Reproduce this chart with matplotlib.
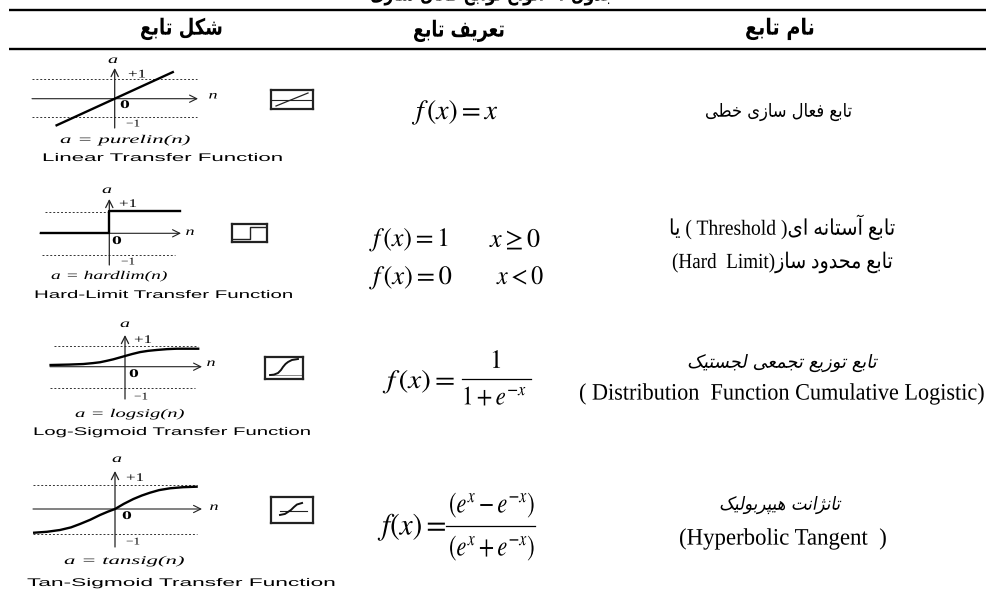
import re
import math
import matplotlib
matplotlib.use("Agg")
import matplotlib.pyplot as plt
from matplotlib.patheffects import AbstractPathEffect
from matplotlib.transforms import Affine2D

plt.rcParams['mathtext.fontset'] = 'stix'

# ---------- table text ----------
title = 'جدول ۱- انواع توابع فعال سازی'
headers = ['شکل تابع', 'تعریف تابع', 'نام تابع']
name_linear = 'تابع فعال سازی خطی'
name_hard = ['تابع آستانه ای( Threshold ) یا', 'تابع محدود ساز(Hard  Limit)']
name_log = ['تابع توزیع تجمعی لجستیک', '( Distribution  Function Cumulative Logistic)']
name_tan = ['تانژانت هیپربولیک', '(Hyperbolic Tangent  )']
captions = ['Linear Transfer Function', 'Hard-Limit Transfer Function',
            'Log-Sigmoid Transfer Function', 'Tan-Sigmoid Transfer Function']
formulas = ['a = purelin(n)', 'a = hardlim(n)', 'a = logsig(n)', 'a = tansig(n)']

# ---------- curves (n, a) ----------
linear_n = [-1.4, 1.4]
linear_a = [-1.4, 1.4]
hard_n = [-1.72, 0, 0, 1.76]
hard_a = [0, 0, 1, 1]
log_n = [-1.86, -1.4, -1.04, -0.8, -0.625, -0.45, -0.29, -0.14, 0, 0.18, 0.375, 0.58, 0.79, 1.05, 1.29, 1.83]
log_a = [0.08, 0.1, 0.127, 0.17, 0.21, 0.28, 0.35, 0.43, 0.505, 0.6, 0.69, 0.75, 0.79, 0.83, 0.85, 0.85]
tan_n = [-2.02, -1.7, -1.375, -1.1, -0.875, -0.62, -0.375, -0.18, 0, 0.22, 0.46, 0.67, 0.875, 1.1, 1.375, 1.7, 2.04]
tan_a = [-0.967, -0.93, -0.857, -0.75, -0.612, -0.44, -0.245, -0.11, 0, 0.21, 0.408, 0.55, 0.665, 0.77, 0.845, 0.89, 0.91]

# icons: same functions in their little boxes
icon_log_n = [-0.93, -0.67, -0.4, -0.2, -0.07, 0.1, 0.27, 0.53, 0.93]
icon_log_a = [-0.94, -0.89, -0.69, -0.31, 0.06, 0.44, 0.69, 0.94, 1.06]
icon_tan_n = [-0.8, -0.47, -0.27, -0.07, 0.13, 0.33, 0.67]
icon_tan_a = [-0.55, -0.44, -0.22, 0, 0.33, 0.61, 0.78]


# ---------- Persian shaping (matplotlib draws glyphs left to right, unjoined) ----------
FORMS = {}
for ch, base in zip('بتثجحخسشصضطظعغفقلمنه',
                    [0xFE8F, 0xFE95, 0xFE99, 0xFE9D, 0xFEA1, 0xFEA5, 0xFEB1, 0xFEB5, 0xFEB9,
                     0xFEBD, 0xFEC1, 0xFEC5, 0xFEC9, 0xFECD, 0xFED1, 0xFED5, 0xFEDD, 0xFEE1,
                     0xFEE5, 0xFEE9]):
    FORMS[ch] = tuple(chr(base + i) for i in range(4))
for ch, base in zip('پچکگی', [0xFB56, 0xFB7A, 0xFB8E, 0xFB92, 0xFBFC]):
    FORMS[ch] = tuple(chr(base + i) for i in range(4))
for ch, base in zip('اآدذرزژو', [0xFE8D, 0xFE81, 0xFEA9, 0xFEAB, 0xFEAD, 0xFEAF, 0xFB8A, 0xFEED]):
    FORMS[ch] = (chr(base), chr(base + 1))


def shape_word(s):
    out = []
    for i, c in enumerate(s):
        f = FORMS.get(c)
        if f is None:
            out.append(c)
            continue
        prev = s[i - 1] if i else ''
        nxt = s[i + 1] if i + 1 < len(s) else ''
        from_prev = prev in FORMS and len(FORMS[prev]) == 4
        to_next = nxt in FORMS and len(f) == 4
        if len(f) == 2:
            out.append(f[1] if from_prev else f[0])
        else:
            out.append(f[3] if from_prev and to_next else f[1] if from_prev
                       else f[2] if to_next else f[0])
    return ''.join(out)[::-1]


def visual(s):
    parts = re.split(r'([\u0600-\u06FF]+(?: +[\u0600-\u06FF]+)*)', s)
    runs = []
    for p in parts:
        if not p:
            continue
        if re.match(r'[\u0600-\u06FF]', p):
            runs.append(shape_word(p))
        else:
            core = p.strip(' ')
            lead = len(p) - len(p.lstrip(' '))
            trail = len(p) - len(p.rstrip(' '))
            runs.append(' ' * trail + core + ' ' * lead)
    return ''.join(runs[::-1])


class Warp(AbstractPathEffect):
    """Stretch / slant a text around a display x, the text stays a text."""
    def __init__(self, sx, cx, cy, skew=0.0):
        super().__init__()
        self.t = (Affine2D().translate(-cx, -cy)
                  .skew(math.atan(skew), 0).scale(sx, 1).translate(cx, cy))

    def draw_path(self, renderer, gc, tpath, affine, rgbFace=None):
        renderer.draw_path(gc, tpath, affine + self.t, rgbFace)


fig = plt.figure(figsize=(9.87, 5.92), dpi=100)
bg = fig.add_axes([0, 0, 1, 1])
bg.set_xlim(0, 987)
bg.set_ylim(592, 0)
bg.axis('off')
rend = fig.canvas.get_renderer()

SERIF = ['Liberation Serif', 'DejaVu Sans']
PERS = ['DejaVu Sans']


def fit(x0, x1, y, s, size, family=SERIF, skew=0.0, **kw):
    """Text centred at y, horizontally fitted to span x0..x1 in pixels."""
    cx = (x0 + x1) / 2
    t = bg.text(cx, y, s, fontsize=size, family=family, ha='center', va='center',
                color='black', **kw)
    w = t.get_window_extent(rend).width
    t.set_path_effects([Warp((x1 - x0) / w, cx, 592 - y, skew)])
    return t


def panel(box, origin, ux, uy, frame=False):
    x0, y0, x1, y1 = box
    ax = fig.add_axes([x0 / 987, 1 - y1 / 592, (x1 - x0) / 987, (y1 - y0) / 592])
    ax.set_xlim((x0 - origin[0]) / ux, (x1 - origin[0]) / ux)
    ax.set_ylim((origin[1] - y1) / uy, (origin[1] - y0) / uy)
    ax.set_xticks([])
    ax.set_yticks([])
    ax.patch.set_alpha(0)
    for sp in ax.spines.values():
        sp.set_visible(frame)
        sp.set_linewidth(1.6)
        sp.set_color('#222222')
    return ax


def plot_cell(orig, up, dn, hx, vy, dots_up, dots_dn, n, a, ux):
    cx, cy = orig
    bg.annotate('', xy=(hx[1], cy), xytext=(hx[0], cy),
                arrowprops=dict(arrowstyle='->', lw=0.8, color='#222222', mutation_scale=13,
                                shrinkA=0, shrinkB=0))
    bg.annotate('', xy=(cx, vy[0]), xytext=(cx, vy[1]),
                arrowprops=dict(arrowstyle='->', lw=0.9, color='#222222', mutation_scale=13,
                                shrinkA=0, shrinkB=0))
    bg.plot(dots_up, [up, up], color='#333333', lw=0.7, ls=(0, (2, 2)))
    bg.plot(dots_dn, [dn, dn], color='#333333', lw=0.7, ls=(0, (2, 2)))
    uy = (dn - up) / 2
    ax = panel((hx[0] - 10, vy[0] - 10, hx[1] + 10, vy[1] + 10), orig, ux, uy)
    ax.plot(n, a, color='black', lw=1.7, solid_joinstyle='round')


def labels(a_xy, p_xy, n_xy, z_xy, m_xy, form, span, fy, cap, cspan, cy):
    LS = 'Liberation Serif'
    fit(a_xy[0] - 5, a_xy[0] + 5, a_xy[1], 'a', 8.5, family=LS, style='italic')
    fit(p_xy[0] - 9, p_xy[0] + 9, p_xy[1], '+1', 8.5, family=LS)
    fit(n_xy[0] - 4.5, n_xy[0] + 4.5, n_xy[1], 'n', 8.5, family=LS, style='italic')
    fit(z_xy[0] - 5, z_xy[0] + 5, z_xy[1], '0', 8.5, family=LS, weight='bold')
    fit(m_xy[0] - 7, m_xy[0] + 7, m_xy[1], '−1', 7.5, family=LS)
    fit(span[0], span[1], fy, form, 8.5, family=LS, style='italic')
    fit(cspan[0], cspan[1], cy, cap, 8, family='Liberation Sans')


# ---------- rules and headers ----------
bg.plot([9, 987], [10, 10], color='black', lw=1.7, solid_capstyle='butt')
bg.plot([9, 987], [49, 49], color='black', lw=1.7, solid_capstyle='butt')
fit(370, 615, -5, visual(title), 15, family=PERS, weight='bold')
fit(140, 223, 29, visual(headers[0]), 16, family=PERS, weight='bold')
fit(413, 505, 31, visual(headers[1]), 16, family=PERS, weight='bold')
fit(745, 815, 29, visual(headers[2]), 16, family=PERS, weight='bold')

# ---------- shape column ----------
plot_cell((114.7, 98.7), 79.3, 117.3, (32, 198), (68, 128), (32, 197), (32, 197),
          linear_n, linear_a, 41.5)
labels((113, 60), (137, 74.5), (213, 95.5), (125, 105), (133, 124),
       formulas[0], (60, 190), 140, captions[0], (42, 285), 158)

plot_cell((109.3, 233.3), 211.7, 255.3, (40, 181), (199, 265), (45, 109), (42, 175),
          hard_n, hard_a, 40)
labels((107, 190), (128, 204), (190, 232), (117, 241), (128, 262),
       formulas[1], (51, 167), 276, captions[1], (34, 295), 295)

plot_cell((125, 366.7), 346, 388.3, (50, 202), (335, 399), (54, 198), (50, 195),
          log_n, log_a, 40)
labels((125, 324), (143, 340), (211, 363), (134, 374), (141, 397),
       formulas[2], (75, 184), 414, captions[2], (33, 313), 432)

plot_cell((115, 509), 485, 534, (33, 202), (471, 547), (33, 197), (33, 197),
          tan_n, tan_a, 40)
labels((117, 459), (135, 478), (214, 507), (127, 516), (133, 542),
       formulas[3], (64, 184), 561, captions[3], (27, 338), 583)

# ---------- icons ----------
ic = panel((271, 90, 313, 109), (292, 99.5), 16, 6.5, frame=True)
ic.plot([-1.3, 1.3], [0, 0], color='#222222', lw=0.8)
ic.plot([-1, 1], [-1, 1], color='#222222', lw=0.9)

ic = panel((232, 224, 267, 242), (250, 233), 15, 6.5, frame=True)
ic.plot([-1.2, 0, 0, 1.2], [-0.95, -0.95, 1, 1], color='#222222', lw=1.0)

ic = panel((265, 357, 303, 379), (284, 367.5), 15, 8, frame=True)
ic.plot([-0.93, 1.1], [-0.94, -0.94], color='#888888', lw=0.7)
ic.plot(icon_log_n, icon_log_a, color='#111111', lw=1.4)

ic = panel((271, 497, 313, 523), (292, 510), 15, 9, frame=True)
ic.plot([-0.8, 1.0], [-0.1, -0.1], color='#222222', lw=0.8)
ic.plot(icon_tan_n, icon_tan_a, color='#111111', lw=1.4)

# ---------- definition column ----------
fit(416, 503, 112, r'$f\,(x) = x$', 20)
fit(373, 453, 240, r'$f\,(x) = 1$', 19)
fit(490, 542, 240, r'$x \geq 0$', 19)
fit(373, 457, 278, r'$f\,(x) = 0$', 19)
fit(497, 545, 278, r'$x < 0$', 19)

fit(387, 460, 382, r'$f\,(x) =$', 19)
fit(490, 502, 362, r'$1$', 19)
fit(462, 527, 398, r'$1 + e^{-x}$', 19)
bg.plot([462, 531], [379, 379], color='black', lw=0.9)

fit(382, 451, 527, r'$f(x)=$', 22)
fit(449, 535, 505, r'$(e^{x} - e^{-x})$', 21)
fit(449, 535, 548, r'$(e^{x} + e^{-x})$', 21)
bg.plot([446, 535], [526, 526], color='black', lw=0.9)

# ---------- name column ----------
fit(705, 852, 112, visual(name_linear), 13, family=PERS)
fit(669, 895, 227, visual(name_hard[0]), 15.5, family=SERIF)
fit(672, 892, 262, visual(name_hard[1]), 15.5, family=SERIF)
fit(688, 878, 363, visual(name_log[0]), 13, family=PERS, skew=0.2)
fit(579, 985, 394, name_log[1], 17, family=SERIF)
fit(720, 841, 505, visual(name_tan[0]), 13, family=PERS, skew=0.2)
fit(679, 887, 539, name_tan[1], 17, family=SERIF)

fig.savefig('out.png', dpi=100)
